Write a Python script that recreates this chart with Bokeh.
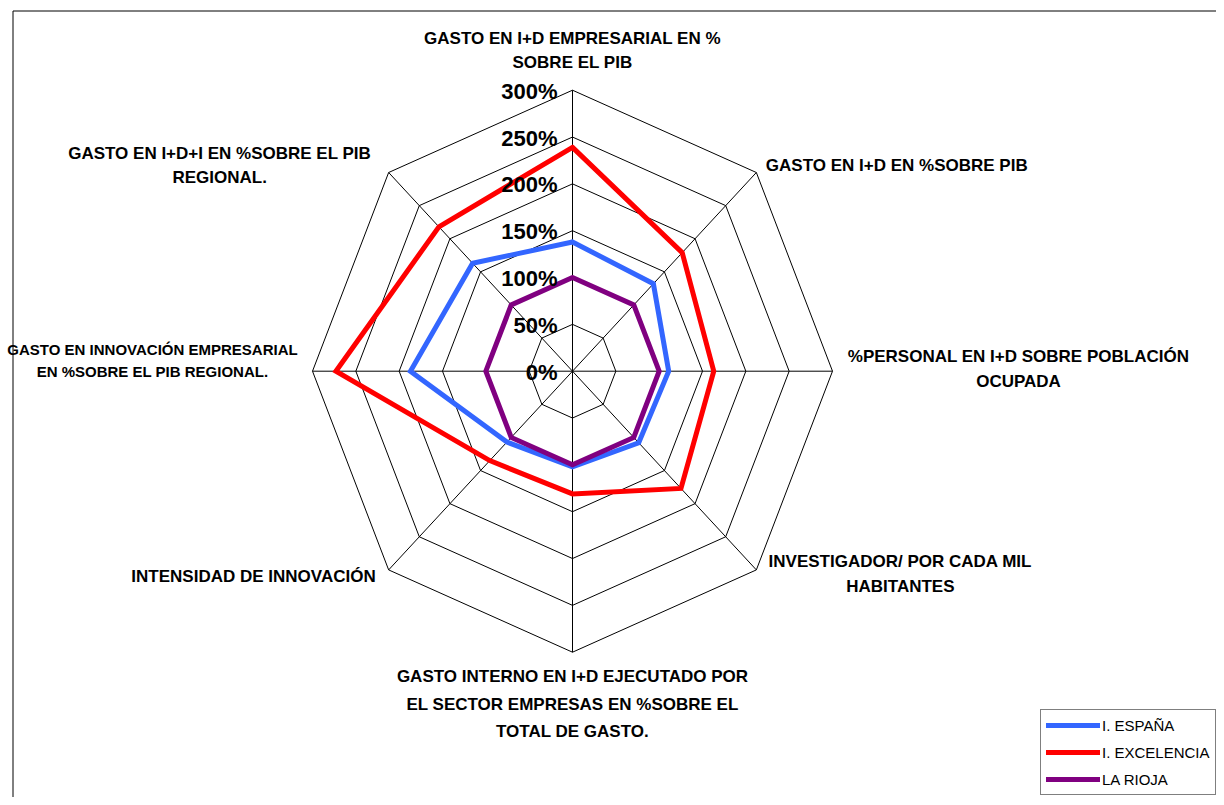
import numpy as np
from bokeh.plotting import figure
from bokeh.models import Range1d, Legend, LegendItem
from bokeh.embed import file_html
from bokeh.resources import INLINE
from bokeh.core.properties import value

# ---------------- data ----------------
axis_labels = [
    ["GASTO EN I+D EMPRESARIAL EN %", "SOBRE EL PIB"],
    ["GASTO EN I+D EN %SOBRE PIB"],
    ["%PERSONAL EN I+D SOBRE POBLACIÓN", "OCUPADA"],
    ["INVESTIGADOR/ POR CADA MIL", "HABITANTES"],
    ["GASTO INTERNO EN I+D EJECUTADO POR", "EL SECTOR EMPRESAS EN %SOBRE EL", "TOTAL DE GASTO."],
    ["INTENSIDAD DE INNOVACIÓN"],
    ["GASTO EN INNOVACIÓN EMPRESARIAL", "EN %SOBRE EL PIB REGIONAL."],
    ["GASTO EN I+D+I EN %SOBRE EL PIB", "REGIONAL."],
]
levels = [0, 50, 100, 150, 200, 250, 300]
level_labels = ["0%", "50%", "100%", "150%", "200%", "250%", "300%"]

series_names = ["I. ESPAÑA", "I. EXCELENCIA", "LA RIOJA"]
espana = [138, 132, 111, 108, 102, 107, 187, 163]
excelencia = [239, 179, 163, 177, 131, 135, 273, 218]
la_rioja = [100, 100, 100, 100, 100, 100, 100, 100]
series_colors = ["#3366FF", "#FF0000", "#800080"]

# ---------------- layout ----------------
W, H = 1216, 797
CX, CY = 572.0, 370.7          # centre in figure pixels (from top-left)
SX, SY = 260 / 300, 281 / 300  # pixels per percent
RMAX = levels[-1]

p = figure(width=W, height=H, output_backend="svg", toolbar_location=None,
           x_range=Range1d(-CX / SX, (W - CX) / SX),
           y_range=Range1d(-(H - CY) / SY, CY / SY),
           x_axis_type=None, y_axis_type=None, min_border=0)
p.grid.visible = False
p.outline_line_color = None
p.background_fill_color = "white"
p.border_fill_color = "white"

FONT = value("Liberation Sans")
n = len(axis_labels)
ang = np.arange(n) * 2 * np.pi / n
sin, cos = np.sin(ang), np.cos(ang)

# chart area border (left and top edges)
x0, x1 = p.x_range.start, p.x_range.end
y0, y1 = p.y_range.start, p.y_range.end
bl = x0 + 12.5 / SX
bt = y1 - 10.5 / SY
p.line([bl, bl, x1 + 50], [y0 - 50, bt, bt], line_color="black", line_width=1)

# rings
for lv in levels[1:]:
    xs = list(lv * sin) + [lv * sin[0]]
    ys = list(lv * cos) + [lv * cos[0]]
    p.line(xs, ys, line_color="black", line_width=1)

# spokes
p.multi_line([[0, RMAX * s] for s in sin], [[0, RMAX * c] for c in cos],
             line_color="black", line_width=1)

# series
renderers = []
for name, vals, col in zip(series_names, [espana, excelencia, la_rioja], series_colors):
    v = np.array(vals, dtype=float)
    xs = list(v * sin) + [v[0] * sin[0]]
    ys = list(v * cos) + [v[0] * cos[0]]
    r = p.line(xs, ys, line_color=col, line_width=5, line_join="miter", line_cap="round")
    renderers.append(r)

# tick labels
p.text(x=[0] * len(levels), y=levels, text=level_labels, x_offset=-15, y_offset=1,
       text_align="right", text_baseline="middle", text_font=FONT,
       text_font_style="bold", text_font_size="22px", text_color="black")

# axis labels: (align, dx, dy of first line, line spacing, font size) in pixels from vertex
label_pos = [
    ("center", 0, -51.3, 23.3, 17),
    ("left", 9.5, -6.7, 24, 17),
    ("center", 186, -15, 25, 17),
    ("center", 144, -8.3, 25, 17),
    ("center", 0, 24.4, 27.5, 17),
    ("right", -13, 6.5, 24, 17),
    ("center", -160, -22, 22.3, 15),
    ("center", -169, -19.5, 24, 17),
]
for i, lines in enumerate(axis_labels):
    align, dx, dy, ls, fs = label_pos[i]
    vx, vy = RMAX * sin[i], RMAX * cos[i]
    for j, line in enumerate(lines):
        p.text(x=[vx], y=[vy], text=[line], x_offset=dx, y_offset=dy + j * ls,
               text_align=align, text_baseline="middle", text_font=FONT,
               text_font_style="bold", text_font_size=f"{fs}px", text_color="black")

legend = Legend(items=[LegendItem(label=nm, renderers=[r]) for nm, r in zip(series_names, renderers)],
                location=(1040, 2), orientation="vertical",
                padding=5, spacing=7, margin=0,
                glyph_width=54, glyph_height=20, label_height=20, label_standoff=2,
                label_text_font="Liberation Sans", label_text_font_size="15px", label_text_color="black",
                border_line_color="black", border_line_width=1,
                background_fill_color="white", background_fill_alpha=1.0)
p.add_layout(legend)

open("out.html", "w").write(file_html(p, INLINE))
